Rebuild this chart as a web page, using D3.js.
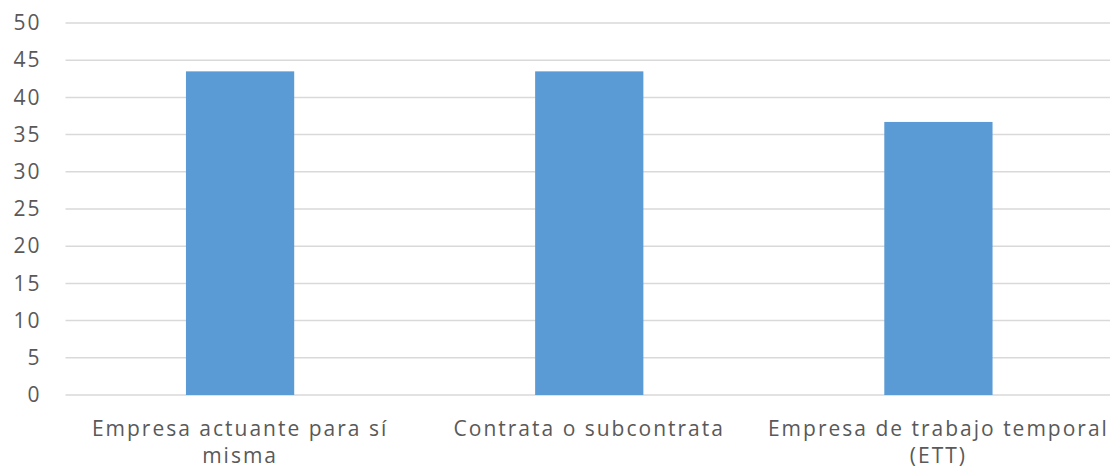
<!DOCTYPE html>
<html>
<head>
<meta charset="utf-8">
<script src="https://cdn.jsdelivr.net/npm/d3@7"></script>
<style>
  body { margin: 0; background: #fff; }
  text { font-family: "Open Sans", "Noto Sans", sans-serif; fill: #595959; letter-spacing: 2px; }
</style>
</head>
<body>
<div id="container"></div>
<script>
const categories = ["Empresa actuante para sí misma", "Contrata o subcontrata", "Empresa de trabajo temporal (ETT)"];
const values = [43.5, 43.5, 36.7];
const yTicks = [0, 5, 10, 15, 20, 25, 30, 35, 40, 45, 50];

const width = 1110, height = 470;
const margin = { top: 23, right: -3, bottom: 75, left: 65.5 };

const svg = d3.select("#container").append("svg")
    .attr("width", width)
    .attr("height", height);

const x = d3.scaleBand()
    .domain(categories)
    .range([margin.left, width - margin.right])
    .paddingInner(0.69)
    .paddingOuter(0.345);

const y = d3.scaleLinear()
    .domain([0, 50])
    .range([height - margin.bottom, margin.top]);

// gridlines
svg.append("g")
    .selectAll("line")
    .data(yTicks)
  .enter().append("line")
    .attr("x1", margin.left)
    .attr("x2", width)
    .attr("y1", d => y(d))
    .attr("y2", d => y(d))
    .attr("stroke", "#d9d9d9")
    .attr("stroke-width", 1.5);

// y axis labels
const yAxis = svg.append("g")
    .attr("transform", `translate(${margin.left},0)`)
    .call(d3.axisLeft(y).tickValues(yTicks).tickSize(0).tickPadding(24));
yAxis.select(".domain").remove();
yAxis.selectAll("text")
    .style("font-size", "21px")
    .attr("fill", "#595959");

// bars
svg.selectAll("rect.bar")
    .data(values)
  .enter().append("rect")
    .attr("class", "bar")
    .attr("x", (d, i) => x(categories[i]))
    .attr("y", d => y(d))
    .attr("width", x.bandwidth())
    .attr("height", d => y(0) - y(d))
    .attr("fill", "#5b9bd5");

// x axis labels (wrapped)
const xAxis = svg.append("g")
    .attr("transform", `translate(0,${y(0)})`)
    .call(d3.axisBottom(x).tickSize(0).tickPadding(26));
xAxis.select(".domain").remove();
xAxis.selectAll("text")
    .style("font-size", "21px")
    .attr("fill", "#595959")
    .call(wrap, x.step());

function wrap(texts, maxWidth) {
    texts.each(function () {
        const text = d3.select(this);
        const words = text.text().split(/\s+/);
        const yAttr = text.attr("y");
        const dy = parseFloat(text.attr("dy"));
        text.text(null);
        let line = [];
        let lineNo = 0;
        let tspan = text.append("tspan").attr("x", 0).attr("y", yAttr).attr("dy", dy + "em");
        words.forEach(w => {
            line.push(w);
            tspan.text(line.join(" "));
            if (tspan.node().getComputedTextLength() > maxWidth && line.length > 1) {
                line.pop();
                tspan.text(line.join(" "));
                line = [w];
                lineNo++;
                tspan = text.append("tspan").attr("x", 0).attr("y", yAttr)
                    .attr("dy", (dy + lineNo * 1.3) + "em").text(w);
            }
        });
    });
}
</script>
</body>
</html>
